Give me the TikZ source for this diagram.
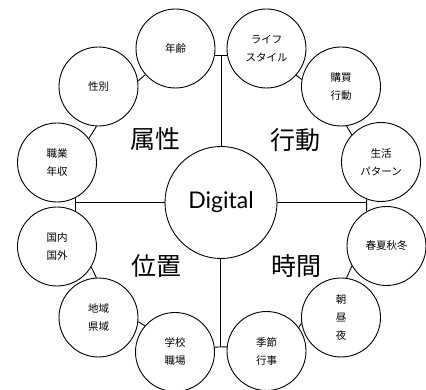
\documentclass[tikz,border=0pt]{standalone}
\usepackage{fontspec}
\setmainfont{Lato}
\newfontfamily\jp{Noto Sans CJK JP}
\usetikzlibrary{calc}
\begin{document}
\begin{tikzpicture}[x=1pt,y=-1pt,
  sat/.style={draw, circle, minimum size=79pt, inner sep=0pt, line width=0.9pt, align=center, font=\jp\fontsize{10.5}{18}\selectfont},
  hub/.style={draw, circle, minimum size=112pt, inner sep=0pt, line width=0.9pt, font=\fontsize{23}{26}\selectfont},
  quad/.style={inner sep=0pt, font=\jp\fontsize{25}{28}\selectfont},
  link/.style={line width=0.9pt}]
\useasboundingbox (0,0) rectangle (426,390);
\node[hub] (dig) at (221,202.5) {Digital};
% left upper
\node[sat] (nenrei) at (175.5,48.5) {年齢};
\node[sat] (seibetsu) at (98.5,86.5) {性別};
\node[sat] (shoku) at (57,162.5) {職業\\年収};
% left lower
\node[sat] (kokunai) at (57,246.5) {国内\\国外};
\node[sat] (chiiki) at (98.5,317.5) {地域\\県域};
\node[sat] (gakkou) at (175,352) {学校\\職場};
% right upper
\node[sat] (life) at (266.5,48.5) {ライフ\\スタイル};
\node[sat] (koubai) at (341,86.5) {購買\\行動};
\node[sat] (seikatsu) at (381,162) {生活\\パターン};
% right lower
\node[sat] (shunka) at (386.5,246) {春夏秋冬};
\node[sat] (asa) at (341,317.5) {朝\\昼\\夜};
\node[sat] (kisetsu) at (266.5,351) {季節\\行事};
% quadrant labels
\node[quad] (zokusei) at (155,139) {属性};
\node[quad] (koudou) at (295.5,140) {行動};
\node[quad] (ichi) at (156,266) {位置};
\node[quad] (jikan) at (296,266) {時間};
% links between neighbours
\draw[link] (seibetsu.8) -- (nenrei.221);
\draw[link] (seibetsu.267) -- (shoku.37);
\draw[link] (kokunai.-31) -- (chiiki.93);
\draw[link] (chiiki.-6) -- (gakkou.139);
\draw[link] (life.-42) -- (koubai.170);
\draw[link] (koubai.-82) -- (seikatsu.137);
\draw[link] (shunka.210) -- (asa.82);
\draw[link] (asa.188) -- (kisetsu.36);
% T junctions
\draw[link] (nenrei.-10) -- (life.190);
\coordinate (topj) at ($(nenrei.-10)!0.5!(life.190)$);
\draw[link] (topj) -- (topj |- dig.north);
\draw[link] (gakkou.7) -- (kisetsu.174);
\coordinate (botj) at ($(gakkou.7)!0.5!(kisetsu.174)$);
\draw[link] (botj) -- (botj |- dig.south);
\draw[link] (shoku.-62) -- (kokunai.62);
\draw[link] (dig.west) -- (dig.west -| shoku.-62);
\draw[link] (seikatsu.-111) -- (shunka.120);
\draw[link] (dig.east) -- (dig.east -| seikatsu.-111);
\end{tikzpicture}
\end{document}
